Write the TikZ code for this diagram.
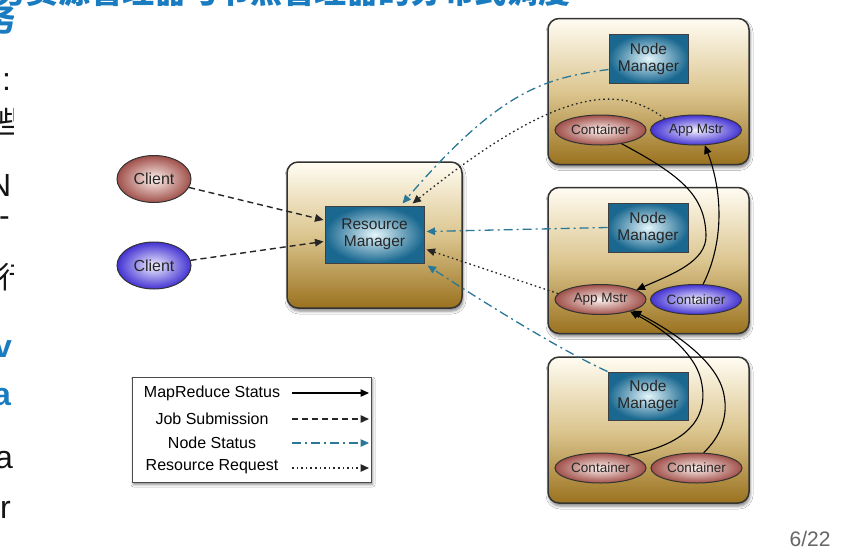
\documentclass[tikz,border=0pt]{standalone}
\usepackage{fontspec}
\setmainfont{Liberation Sans}
\newfontfamily\cjkfont{Noto Sans CJK SC}
\usetikzlibrary{shapes.geometric,arrows.meta,calc,shadows.blur}

\definecolor{hosttop}{HTML}{FFFCF2}
\definecolor{hostmid}{HTML}{DCC690}
\definecolor{hostbot}{HTML}{9A721F}
\definecolor{mgrout}{HTML}{1A6890}
\definecolor{mgrin}{HTML}{E4F6FB}
\definecolor{redout}{HTML}{A0504A}
\definecolor{redin}{HTML}{FFF2EF}
\definecolor{bluout}{HTML}{4332D2}
\definecolor{bluin}{HTML}{F2F0FF}
\definecolor{statusteal}{HTML}{2A7896}
\definecolor{slideblue}{HTML}{1A7CC0}
\definecolor{slideink}{HTML}{141414}

\tikzset{
  >={Triangle[length=8.5pt,width=7.5pt]},
  host/.style={draw=black!80, line width=1.5pt, rounded corners=11pt,
    top color=hosttop, bottom color=hostbot, middle color=hostmid,
    blur shadow={shadow xshift=1pt, shadow yshift=-3pt, shadow blur radius=3pt, shadow opacity=50},
    minimum width=201pt, minimum height=146pt, inner sep=0pt},
  mgr/.style={draw=black!75, line width=1pt, inner color=mgrin, outer color=mgrout,
    text=black!85, align=center, font=\fontsize{15.5}{17}\selectfont, inner sep=0pt},
  proc/.style={ellipse, draw=black!80, line width=1pt, minimum width=91pt, minimum height=30pt,
    inner sep=0pt, font=\fontsize{13.5}{14}\selectfont, text=black!85},
  redproc/.style={proc, inner color=redin, outer color=redout},
  bluproc/.style={proc, inner color=bluin, outer color=bluout},
  client/.style={minimum width=74pt, minimum height=47pt, font=\fontsize{16}{17}\selectfont},
  mrline/.style={->, draw=black, line width=1.1pt},
  jobline/.style={->, draw=black!85, line width=1.4pt, dash pattern=on 6pt off 4pt},
  nsline/.style={->, draw=statusteal, line width=1.3pt, dash pattern=on 9pt off 4pt on 2pt off 4pt},
  rrline/.style={->, draw=black!85, line width=1.3pt, dash pattern=on 1.6pt off 3pt},
  legtext/.style={font=\fontsize{16}{17}\selectfont, text=black},
  slidetext/.style={font=\fontsize{32}{34}\selectfont, text=slideink, inner sep=0pt, anchor=base west},
  slidehead/.style={font=\cjkfont\bfseries\fontsize{32}{34}\selectfont, text=slideblue, inner sep=0pt, anchor=base west},
}

\begin{document}
\begin{tikzpicture}[x=1pt,y=-1pt]
\useasboundingbox (0,0) rectangle (853,552);
\fill[white] (0,0) rectangle (853,552);

% slide text lying behind the figure
\node[slidehead] (title) at (-6,3) {务资源管理器与节点管理器的分布式调度};
\node[slidehead] (t1) at (-16,31) {务};
\node[slidetext] (t2) at (2,90) {:};
\node[slidetext, font=\cjkfont\fontsize{30}{32}\selectfont] (t3) at (-3,133) {些};
\node[slidetext] (t4) at (-12,196) {N};
\node[slidetext] (t5) at (-1,226) {-};
\node[slidetext, font=\cjkfont\fontsize{30}{32}\selectfont] (t6) at (-2,288) {行};
\node[slidetext, text=slideblue, font=\bfseries\fontsize{32}{34}\selectfont] (t7) at (-6,357) {vi};
\node[slidetext, text=slideblue, font=\bfseries\fontsize{32}{34}\selectfont] (t8) at (-7,405) {a};
\node[slidetext] (t9) at (-5,468) {a};
\node[slidetext] (t10) at (0,518) {r};

% figure background
\fill[white] (14,10) rectangle (853,552);

% hosts
\node[host] (h1) at (648.5,91.5) {};
\node[host] (h2) at (648.5,260.5) {};
\node[host] (h3) at (648.5,430) {};
\node[host, minimum width=175pt] (hr) at (374.5,235) {};

% managers
\node[mgr, minimum width=99pt, minimum height=57pt] (rm) at (374.5,234.5) {Resource\\Manager};
\node[mgr, minimum width=79pt, minimum height=49pt] (nm1) at (648.5,58.5) {Node\\Manager};
\node[mgr, minimum width=80pt, minimum height=49pt] (nm2) at (648,227.5) {Node\\Manager};
\node[mgr, minimum width=80pt, minimum height=48pt] (nm3) at (648,396) {Node\\Manager};

% containers and application masters
\node[redproc] (c1) at (600.5,130) {Container};
\node[bluproc] (am1) at (696,130) {App Mstr};
\node[redproc] (am2) at (600.5,299.5) {App Mstr};
\node[bluproc] (cm2) at (696,299.5) {Container};
\node[redproc] (bc1) at (600.5,468) {Container};
\node[redproc] (bc2) at (696.5,468) {Container};

% clients
\node[redproc, client] (cl1) at (154,179) {Client};
\node[bluproc, client] (cl2) at (154,265.5) {Client};

% job submission
\draw[jobline] (cl1) -- ($(rm.west)+(-1,-14.5)$);
\draw[jobline] (cl2) -- ($(rm.west)+(-1,7)$);

% node status
\draw[nsline] ($(nm1.west)+(0,11)$) .. controls (545,78) and (500,90) .. ($(rm.north)+(28,-2)$);
\draw[nsline] (nm2.west) -- ($(rm.east)+(2,-3)$);
\draw[nsline] (nm3.north west) .. controls (560,350) and (480,300) .. ($(rm.south east)+(3,2)$);

% resource requests
\draw[rrline] (am1.160) .. controls (620,85) and (560,85) .. ($(rm.north)+(38,-2)$);
\draw[rrline] (am2.172) -- ($(rm.east)+(2,15)$);

% mapreduce status
\draw[mrline] (c1.-33) .. controls (680,175) and (705,195) .. (706,235)
  .. controls (707,262) and (670,275) .. (am2.15);
\draw[mrline] (cm2.65) .. controls (725,240) and (722,190) .. (am1.-60);
\draw[mrline] (bc1.25) .. controls (685,445) and (708,420) .. (702,385)
  .. controls (698,355) and (665,330) .. (am2.-22);
\draw[mrline] (bc2.65) .. controls (722,435) and (728,415) .. (724,395)
  .. controls (718,360) and (670,330) .. (am2.-19);

% legend
\node[draw=black!70, fill=white, line width=1pt, minimum width=239pt, minimum height=105pt,
  blur shadow={shadow xshift=1.5pt, shadow yshift=-2.5pt, shadow blur radius=2.5pt, shadow opacity=50}] (leg) at (251.5,429.5) {};
\node[legtext] (lt1) at (212,393) {MapReduce Status};
\node[legtext] (lt2) at (212,419) {Job Submission};
\node[legtext] (lt3) at (212,443) {Node Status};
\node[legtext] (lt4) at (212,467) {Resource Request};
\coordinate (la1) at (292,393); \coordinate (lb1) at (369,393);
\coordinate (la2) at (292,419); \coordinate (lb2) at (369,419);
\coordinate (la3) at (292,443); \coordinate (lb3) at (369,443);
\coordinate (la4) at (292,468); \coordinate (lb4) at (369,468);
\draw[mrline] (la1) -- (lb1);
\draw[jobline] (la2) -- (lb2);
\draw[nsline] (la3) -- (lb3);
\draw[rrline] (la4) -- (lb4);

% page number
\node[text=black!60, font=\fontsize{21}{22}\selectfont] (pg) at (810,539) {6/22};
\end{tikzpicture}
\end{document}
